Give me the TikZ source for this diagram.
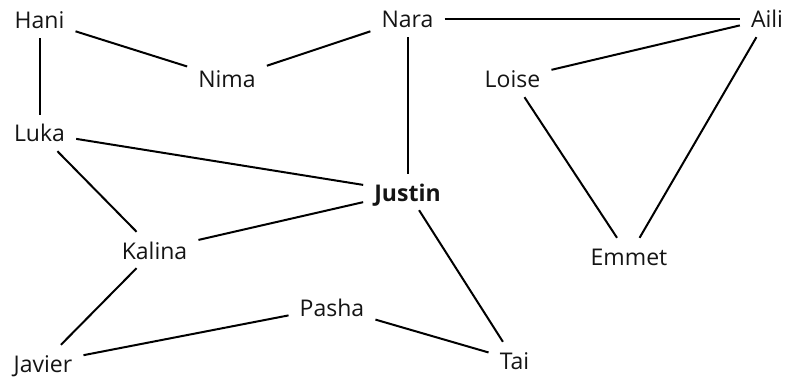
\documentclass[tikz,border=0pt]{standalone}
\usepackage{fontspec}
\setmainfont{Open Sans}
\usetikzlibrary{positioning}
\usepackage{xcolor}
\definecolor{tinta}{RGB}{20, 20, 20}
\tikzset{
  pessoa/.style={
    font=\fontsize{23}{26}\selectfont, text=tinta, anchor=base,
    inner xsep=11pt, inner ysep=8pt, text height=19pt, text depth=1pt
  },
  destaque/.style={pessoa, font=\fontsize{23}{26}\selectfont\bfseries},
  ligacao/.style={draw=black, line width=2pt},
}

\begin{document}
\begin{tikzpicture}[x=1pt, y=-1pt]
\useasboundingbox (0,0) rectangle (787,377);

% Pessoas
\node[pessoa] (hani) at (39.5,29) {Hani};
\node[pessoa] (nima) at (227,88) {Nima};
\node[pessoa] (nara) at (407.5,28) {Nara};
\node[pessoa] (aili) at (767,28) {Aili};
\node[pessoa] (loise) at (512.5,88) {Loise};
\node[pessoa] (luka) at (39.5,142) {Luka};
\node[destaque] (justin) at (407.5,201) {Justin};
\node[pessoa] (kalina) at (154.5,259) {Kalina};
\node[pessoa] (emmet) at (629,265) {Emmet};
\node[pessoa] (pasha) at (332,316) {Pasha};
\node[pessoa] (javier) at (43,372) {Javier};
\node[pessoa] (tai) at (514.5,369) {Tai};

% Ligacoes
\draw[ligacao] (hani) -- (nima);
\draw[ligacao] (hani) -- (luka);
\draw[ligacao] (nima) -- (nara);
\draw[ligacao] (nara) -- (aili);
\draw[ligacao] (nara) -- (justin);
\draw[ligacao] (aili) -- (loise);
\draw[ligacao] (aili) -- (emmet);
\draw[ligacao] (loise) -- (emmet);
\draw[ligacao] (luka) -- (justin);
\draw[ligacao] (luka) -- (kalina);
\draw[ligacao] (justin) -- (kalina);
\draw[ligacao] (justin) -- (tai);
\draw[ligacao] (kalina) -- (javier);
\draw[ligacao] (javier) -- (pasha);
\draw[ligacao] (pasha) -- (tai);

\end{tikzpicture}
\end{document}
